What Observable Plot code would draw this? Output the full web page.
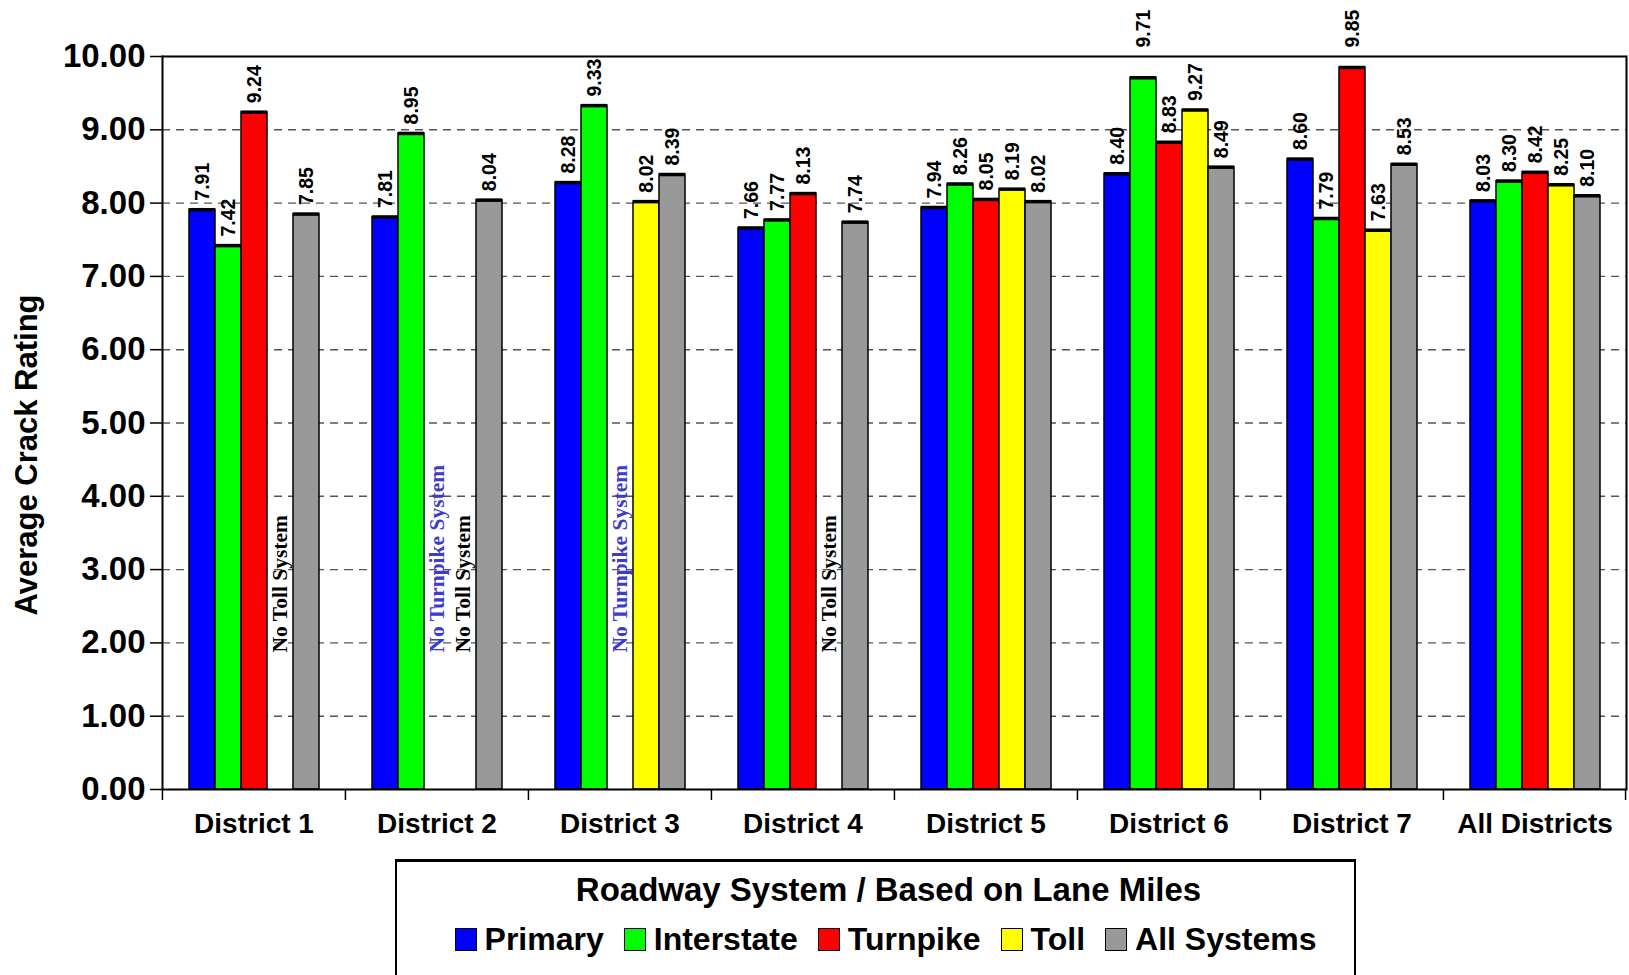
<!DOCTYPE html>
<html>
<head>
<meta charset="utf-8">
<script src="https://cdn.jsdelivr.net/npm/d3@7"></script>
<script src="https://cdn.jsdelivr.net/npm/@observablehq/plot@0.6"></script>
<style>
  body { margin: 0; background: #fff; font-family: "Liberation Sans", Arial, sans-serif; }
  #wrap { position: relative; width: 1629px; height: 975px; overflow: hidden; background: #fff; }
  #chart { position: absolute; left: 0; top: 0; }
  #legend { position: absolute; left: 395px; top: 859px; width: 961px; height: 160px; box-sizing: border-box;
            border: 2px solid #000; border-top-width: 3px; background: #fff; }
  #legend .title { position: absolute; left: 0; right: 0; top: 8px; padding-left: 26px; text-align: center;
            font-size: 33px; font-weight: bold; line-height: 40px; color: #000; }
  #legend .row { position: absolute; left: 0; right: 0; top: 57px; padding-left: 20px; display: flex;
            justify-content: center; align-items: center; height: 40px; }
  #legend .item { display: flex; align-items: center; margin: 0 10px; }
  #legend .sw { width: 20px; height: 21px; border: 1.5px solid #000; margin-right: 8px; }
  #legend .lab { font-size: 32px; font-weight: bold; color: #000; line-height: 40px; }
</style>
</head>
<body>
<div id="wrap"><div id="chart"></div><div id="legend"></div></div>
<script>
// ---- data ----
const districts = ["District 1", "District 2", "District 3", "District 4", "District 5", "District 6", "District 7", "All Districts"];
const systems = ["Primary", "Interstate", "Turnpike", "Toll", "All Systems"];
const systemColors = ["#0000ff", "#00ff00", "#ff0000", "#ffff00", "#999999"];
const primary    = [7.91, 7.81, 8.28, 7.66, 7.94, 8.40, 8.60, 8.03];
const interstate = [7.42, 8.95, 9.33, 7.77, 8.26, 9.71, 7.79, 8.30];
const turnpike   = [9.24, null, null, 8.13, 8.05, 8.83, 9.85, 8.42];
const toll       = [null, null, 8.02, null, 8.19, 9.27, 7.63, 8.25];
const allSystems = [7.85, 8.04, 8.39, 7.74, 8.02, 8.49, 8.53, 8.10];
const yTicks = [0, 1, 2, 3, 4, 5, 6, 7, 8, 9, 10];
const noteDistricts = ["District 1", "District 2", "District 2", "District 3", "District 4"];
const noteSystems   = ["Toll", "Turnpike", "Toll", "Turnpike", "Toll"];
const noteTexts     = ["No Toll System", "No Turnpike System", "No Toll System", "No Turnpike System", "No Toll System"];
const yTitle = "Average Crack Rating";
const legendTitle = "Roadway System / Based on Lane Miles";

// ---- build table ----
const series = [primary, interstate, turnpike, toll, allSystems];
const data = [];
districts.forEach((d, i) => systems.forEach((s, j) => {
  const v = series[j][i];
  if (v != null) data.push({district: d, system: s, value: v});
}));
const notes = noteDistricts.map((d, i) => ({district: d, system: noteSystems[i], text: noteTexts[i]}));

// ---- layout ----
const W = 1629, H = 852, ML = 161, MR = 3, MT = 56, MB = H - 789;
const fxStep = (W - ML - MR) / districts.length;
const fmt = d3.format(".2f");
const sans = '"Liberation Sans", Arial, sans-serif';
const serif = '"Liberation Serif", "Times New Roman", serif';

const chart = Plot.plot({
  width: W, height: H,
  marginLeft: ML, marginRight: MR, marginTop: MT, marginBottom: MB,
  style: {fontFamily: sans, fontWeight: "bold", background: "#fff", color: "#000", overflow: "visible"},
  fx: {domain: districts, padding: 0, label: null},
  x: {domain: systems, paddingInner: 0, paddingOuter: 0.955, axis: null},
  y: {domain: [0, 10], label: null},
  color: {domain: systems, range: systemColors},
  marks: [
    Plot.gridY(yTicks.filter(t => t > 0 && t < 10), {stroke: "#555", strokeOpacity: 1, strokeWidth: 1.4, strokeDasharray: "8,6"}),
    Plot.barY(data, {fx: "district", x: "system", y: "value", fill: "system", stroke: "#000", strokeWidth: 1.5}),
    Plot.tickY(data, {fx: "district", x: "system", y: "value", stroke: "#000", strokeWidth: 3.5}),
    Plot.text(data, {fx: "district", x: "system", y: d => d.value > 9.5 ? 10 : d.value,
      text: d => fmt(d.value), rotate: -90, textAnchor: "start", lineAnchor: "middle", dy: -9,
      fontSize: 19.5, fontWeight: "bold", fill: "#000"}),
    Plot.text(notes, {filter: d => d.system === "Toll", fx: "district", x: "system", y: () => 1.87, text: "text",
      rotate: -90, textAnchor: "start", lineAnchor: "middle", fontFamily: serif, fontSize: 21.5, fontWeight: "bold", fill: "#000"}),
    Plot.text(notes, {filter: d => d.system === "Turnpike", fx: "district", x: "system", y: () => 1.87, text: "text",
      rotate: -90, textAnchor: "start", lineAnchor: "middle", fontFamily: serif, fontSize: 21.5, fontWeight: "bold", fill: "#3b3bcc"}),
    Plot.ruleY([0, 10], {stroke: "#000", strokeWidth: 2}),
    Plot.frame({anchor: "left", facetAnchor: "left", stroke: "#000", strokeWidth: 2}),
    Plot.frame({anchor: "right", facetAnchor: "right", stroke: "#000", strokeWidth: 2}),
    Plot.ruleX(districts, {fx: d => d, x: null, y1: () => 0, y2: () => -0.15, dx: -fxStep / 2, stroke: "#000", strokeWidth: 1.5}),
    Plot.ruleX([districts[districts.length - 1]], {fx: d => d, x: null, y1: () => 0, y2: () => -0.15, dx: fxStep / 2 - 1, stroke: "#000", strokeWidth: 1.5}),
    Plot.axisY({ticks: yTicks, tickFormat: ".2f", tickSize: 12, tickPadding: 5, fontSize: 33, fontWeight: "bold", label: null, strokeWidth: 1.5}),
    Plot.axisFx({anchor: "bottom", tickSize: 0, tickPadding: 24, fontSize: 28, fontWeight: "bold", label: null}),
    Plot.text([yTitle], {fx: () => districts[0], frameAnchor: "left", dx: -135, dy: 32, rotate: -90, text: d => d,
      fontSize: 31, fontWeight: "bold", textAnchor: "middle", lineAnchor: "middle", fill: "#000"})
  ]
});
document.getElementById("chart").appendChild(chart);

// ---- legend (HTML, below the SVG) ----
const legend = document.getElementById("legend");
const t = document.createElement("div");
t.className = "title"; t.textContent = legendTitle; legend.appendChild(t);
const row = document.createElement("div"); row.className = "row";
systems.forEach((s, i) => {
  const it = document.createElement("div"); it.className = "item";
  const sw = document.createElement("div"); sw.className = "sw"; sw.style.background = systemColors[i];
  const lb = document.createElement("span"); lb.className = "lab"; lb.textContent = s;
  it.appendChild(sw); it.appendChild(lb); row.appendChild(it);
});
legend.appendChild(row);
</script>
</body>
</html>
